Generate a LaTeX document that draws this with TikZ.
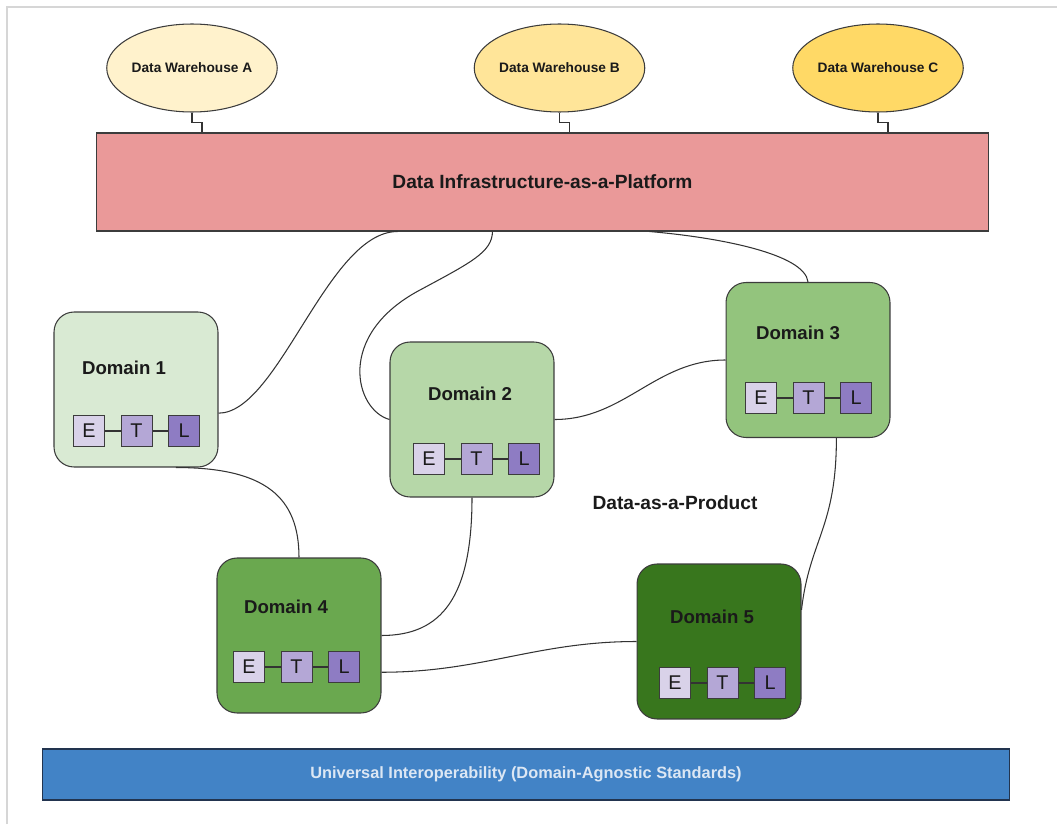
\documentclass[tikz,border=0pt]{standalone}
\usepackage{fontspec}
\setmainfont{Liberation Sans}
\usetikzlibrary{shapes.geometric,positioning,calc}
\definecolor{whA}{HTML}{FFF2CC}
\definecolor{whB}{HTML}{FFE599}
\definecolor{whC}{HTML}{FFD966}
\definecolor{platCol}{HTML}{EA9999}
\definecolor{domA}{HTML}{D9EAD3}
\definecolor{domB}{HTML}{B6D7A8}
\definecolor{domC}{HTML}{93C47D}
\definecolor{domD}{HTML}{6AA84F}
\definecolor{domE}{HTML}{38761D}
\definecolor{etlE}{HTML}{D9D2E9}
\definecolor{etlT}{HTML}{B4A7D6}
\definecolor{etlL}{HTML}{8E7CC3}
\definecolor{barCol}{HTML}{4283C6}
\definecolor{barLine}{HTML}{22344F}
\definecolor{barTxt}{HTML}{DCE7F4}
\definecolor{lineCol}{HTML}{3C3C3C}
\definecolor{wireCol}{HTML}{333333}
\definecolor{txtCol}{HTML}{1A1A1A}
\definecolor{frameCol}{HTML}{D6D6D6}
\tikzset{wire/.style={draw=wireCol, line width=0.6pt}}

\begin{document}
\begin{tikzpicture}[x=0.02cm,y=-0.02cm]
	\tikzstyle{wh} = [ellipse, draw=lineCol, line width=0.6pt, minimum width=3.12cm, minimum height=1.76cm, inner sep=0pt, text=txtCol, font=\fontsize{7.8}{9}\selectfont\bfseries]
	\tikzstyle{dombox} = [rectangle, rounded corners=0.4cm, draw=lineCol, line width=0.6pt, minimum width=3.28cm, minimum height=3.1cm]
	\tikzstyle{dtitle} = [inner sep=0pt, text=txtCol, font=\fontsize{10.6}{12}\selectfont\bfseries]
	\tikzstyle{etl} = [draw=lineCol, line width=0.6pt, minimum size=0.62cm, inner sep=0pt, text=txtCol, font=\fontsize{11.3}{13}\selectfont]

	\useasboundingbox (0,0) rectangle (1057,824);
	\draw[frameCol, line width=1.4pt] (7,824) -- (7,7) -- (1057,7);

	% warehouses and platform
	\node[wh, fill=whA] (wA) at (192,68) {Data Warehouse A};
	\node[wh, fill=whB] (wB) at (559.5,68) {Data Warehouse B};
	\node[wh, fill=whC] (wC) at (878,68) {Data Warehouse C};
	\node[draw=lineCol, line width=0.6pt, fill=platCol, minimum width=17.86cm, minimum height=1.96cm, inner sep=0pt, text=txtCol, font=\fontsize{10.9}{13}\selectfont\bfseries] (plat) at (542.5,182) {Data Infrastructure-as-a-Platform};
	\foreach \w in {wA,wB,wC}
		\draw[wire] (\w.south) -- ++(0,10) -- ++(10,0) coordinate (\w-x) -- (\w-x |- plat.north);

	% domains
	\foreach \i/\bx/\by/\col/\tx/\ty/\ex/\ey in {1/136/389.5/domA/124/368/89/431, 2/472/419.5/domB/470/394/429/459, 3/808/360/domC/798/333/761/398, 4/299/635.5/domD/286/607/249/667, 5/719/641.5/domE/712/617/675/683}{
		\node[dombox, fill=\col] (d\i) at (\bx,\by) {};
		\node[dtitle] (d\i-title) at (\tx,\ty) {Domain \i};
		\node[etl, fill=etlE] (e\i) at (\ex,\ey) {E};
		\node[etl, fill=etlT, right=0.31cm of e\i] (t\i) {T};
		\node[etl, fill=etlL, right=0.31cm of t\i] (l\i) {L};
		\draw[wire] (e\i) -- (t\i) (t\i) -- (l\i);
	}
	\node[dtitle, font=\fontsize{10.9}{13}\selectfont\bfseries] (dap) at (675,503) {Data-as-a-Product};

	% links
	\draw[wire] (d1.-16) .. controls +(60,0) and +(-70,0) .. ($(plat.south)+(-145,0)$);
	\draw[wire] (d2.west) .. controls (355,410) and (335,335) .. (420,290) .. controls (472,262) and (492,252) .. ($(plat.south)+(-50,0)$);
	\draw[wire] (d3.north) .. controls +(-3,-28) and +(70,6) .. ($(plat.south)+(107,0)$);
	\draw[wire] (d2.east) .. controls +(70,0) and +(-70,0) .. (d3.west);
	\draw[wire] (d1.-63) .. controls +(90,0) and +(0,-60) .. (d4.north);
	\draw[wire] (d2.south) .. controls +(0,100) and +(60,0) .. (d4.east);
	\draw[wire] (d4.-24) .. controls +(100,0) and +(-100,0) .. (d5.west);
	\draw[wire] (d3.-70) .. controls +(0,90) and +(8,-70) .. (d5.21);

	\node[draw=barLine, line width=0.6pt, fill=barCol, minimum width=19.36cm, minimum height=1.02cm, inner sep=0pt, text=barTxt, font=\fontsize{9.3}{11}\selectfont\bfseries] (interop) at (526,774.5) {Universal Interoperability (Domain-Agnostic Standards)};
\end{tikzpicture}
\end{document}
